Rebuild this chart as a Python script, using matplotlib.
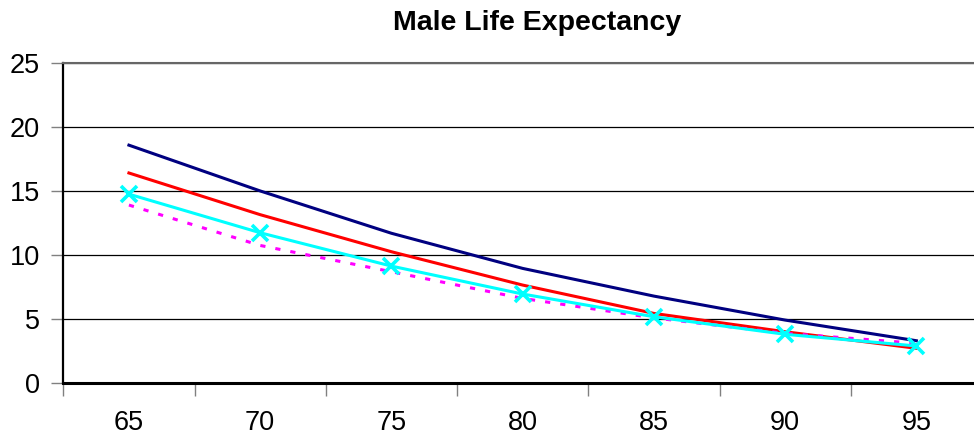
import matplotlib
matplotlib.use("Agg")
import matplotlib.pyplot as plt
import numpy as np

plt.rcParams['font.family'] = ['Liberation Sans', 'DejaVu Sans']

ages = ["65", "70", "75", "80", "85", "90", "95"]
series_navy = [18.57, 15.0, 11.7, 8.96, 6.8, 4.93, 3.32]
series_red = [16.4, 13.15, 10.26, 7.66, 5.45, 4.02, 2.73]
series_magenta = [13.9, 10.75, 8.7, 6.62, 5.1, 3.9, 3.12]
series_cyan = [14.75, 11.74, 9.14, 6.96, 5.19, 3.82, 2.91]
yticks = [0, 5, 10, 15, 20, 25]
title = "Male Life Expectancy"

W, H = 974, 438
fig = plt.figure(figsize=(W / 100, H / 100), dpi=100)
left, right, top, bottom = 63.3, 982, 62.7, 383.3
ax = fig.add_axes([left / W, 1 - bottom / H, (right - left) / W, (bottom - top) / H])

x = np.arange(len(ages))
ax.plot(x, series_navy, color='#000080', lw=2.2, zorder=3)
ax.plot(x, series_red, color='#FF0000', lw=2.2, zorder=3)
ax.plot(x, series_magenta, color='#FF00FF', lw=2.2, dashes=(1.7, 3.3), zorder=3)
ax.plot(x, series_cyan, color='#00FFFF', lw=2.2, marker='x', markersize=11, mew=2.6, zorder=4)

ax.set_xlim(-0.5, len(ages) - 0.5)
ax.set_ylim(0, 25)
ax.set_yticks(yticks)
ax.set_yticklabels([str(v) for v in yticks], fontsize=19.5)
ax.yaxis.grid(True, color='#000000', lw=0.9)
ax.set_axisbelow(True)

ax.set_xticks(np.arange(len(ages) + 1) - 0.5)
ax.set_xticklabels([])
ax.set_xticks(x, minor=True)
ax.set_xticklabels(ages, minor=True, fontsize=19.5)
ax.tick_params(axis='x', which='minor', length=0, pad=19)
ax.tick_params(axis='x', which='major', length=9, width=1, color='#808080', direction='out')
ax.tick_params(axis='y', length=9, width=1, color='#808080', direction='out', pad=8)

ax.spines['right'].set_visible(False)
ax.spines['top'].set_color('#666666')
ax.spines['top'].set_linewidth(1.5)
ax.spines['left'].set_color('black')
ax.spines['left'].set_linewidth(1.6)
ax.spines['bottom'].set_color('black')
ax.spines['bottom'].set_linewidth(2.2)

fig.text(537 / W, 1 - 30 / H, title, ha='center', va='baseline', fontsize=20.5, fontweight='bold')

fig.savefig('out.png', dpi=100)
